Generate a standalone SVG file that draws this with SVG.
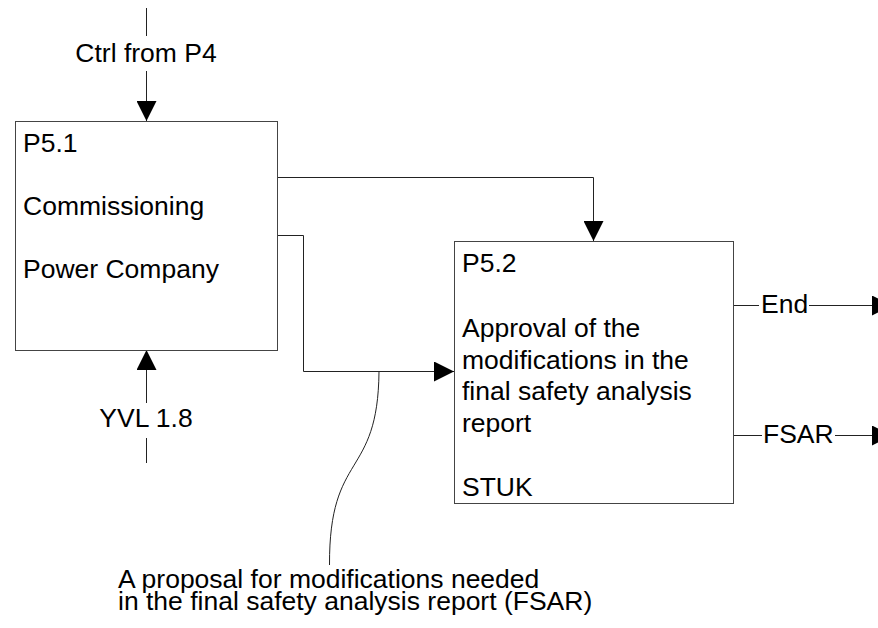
<svg xmlns="http://www.w3.org/2000/svg" width="878" height="628" viewBox="0 0 878 628">
<style>
text{font-family:"Liberation Sans",Arial,sans-serif;font-size:26.5px;fill:#000}
.box{fill:#fff;stroke:#444;stroke-width:1}
.ln{fill:none;stroke:#222;stroke-width:1}
.mid{text-anchor:middle}
</style>
<defs>
<marker id="ah" viewBox="0 0 20 20" refX="20" refY="10" markerWidth="20" markerHeight="20" markerUnits="userSpaceOnUse" orient="auto">
<path d="M0,0 L20,10 L0,20 Z" fill="#000"/>
</marker>
</defs>
<rect width="878" height="628" fill="#fff"/>
<g id="connectors">
<line class="ln" x1="146.5" y1="8" x2="146.5" y2="36"/>
<line class="ln" x1="146.5" y1="71" x2="146.5" y2="121" marker-end="url(#ah)"/>
<line class="ln" x1="146.5" y1="463" x2="146.5" y2="438"/>
<line class="ln" x1="146.5" y1="403" x2="146.5" y2="350" marker-end="url(#ah)"/>
<polyline class="ln" points="277,177.5 593.5,177.5 593.5,241" marker-end="url(#ah)"/>
<polyline class="ln" points="277,235.5 303.5,235.5 303.5,371.5 454,371.5" marker-end="url(#ah)"/>
<path class="ln" d="M379,371.5 C378,480 329,450 329.5,565"/>
<line class="ln" x1="733" y1="305.5" x2="759" y2="305.5"/>
<line class="ln" x1="809" y1="305.5" x2="892" y2="305.5" marker-end="url(#ah)"/>
<line class="ln" x1="733" y1="435.5" x2="762" y2="435.5"/>
<line class="ln" x1="835" y1="435.5" x2="892" y2="435.5" marker-end="url(#ah)"/>
<text x="146" y="62" class="mid">Ctrl from P4</text>
<text x="146" y="427" class="mid">YVL 1.8</text>
<text x="761" y="313">End</text>
<text x="763" y="443">FSAR</text>
<text x="118" y="588">A proposal for modifications needed</text>
<text x="118" y="610">in the final safety analysis report (FSAR)</text>
</g>
<g id="P5.1">
<rect class="box" x="15.5" y="121.5" width="262" height="229"/>
<text x="23" y="152">P5.1</text>
<text x="23" y="215">Commissioning</text>
<text x="23" y="278">Power Company</text>
</g>
<g id="P5.2">
<rect class="box" x="454.5" y="241.5" width="279" height="262"/>
<text x="462" y="272">P5.2</text>
<text x="462" y="337">Approval of the</text>
<text x="462" y="368.5">modifications in the</text>
<text x="462" y="400">final safety analysis</text>
<text x="462" y="431.5">report</text>
<text x="462" y="496">STUK</text>
</g>
</svg>
